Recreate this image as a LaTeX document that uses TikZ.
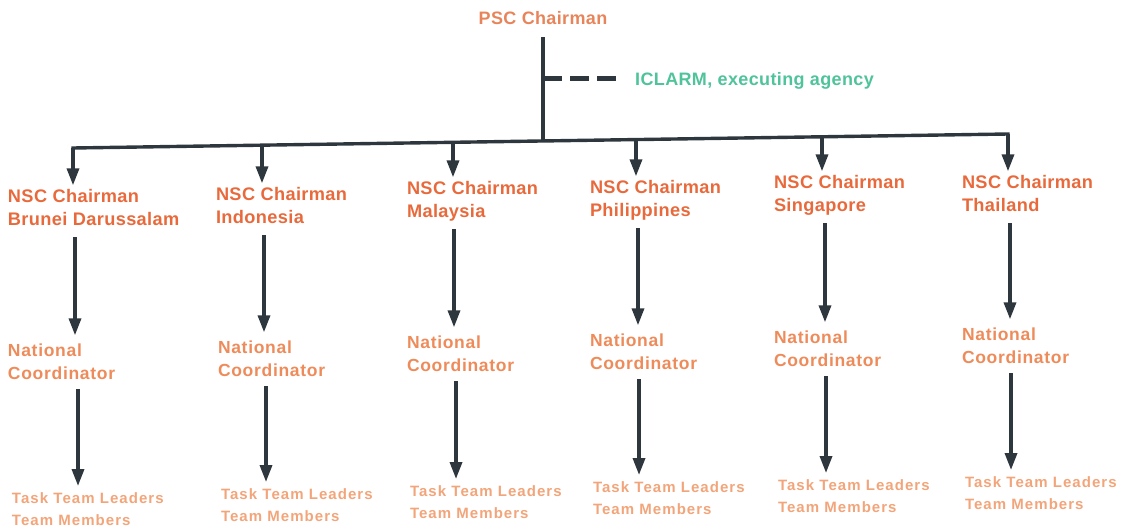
\documentclass[tikz,border=0pt]{standalone}
\usepackage{fontspec}
\setmainfont{Liberation Sans}
\newfontfamily\trackA[LetterSpace=2]{Liberation Sans}
\newfontfamily\trackB[LetterSpace=4]{Liberation Sans}
\newfontfamily\trackC[LetterSpace=7]{Liberation Sans}
\usetikzlibrary{arrows.meta,calc}

\definecolor{nscorange}{HTML}{E86A3C}
\definecolor{ncorange}{HTML}{EE8B5A}
\definecolor{ttorange}{HTML}{F2A57A}
\definecolor{pscorange}{HTML}{E8845A}
\definecolor{agencygreen}{HTML}{4FC39A}
\definecolor{linegray}{HTML}{2E373D}

\tikzset{
  lbl/.style={inner sep=0pt, outer sep=0pt, align=left, anchor=north west},
  nsc/.style={lbl, text=nscorange, font=\trackA\bfseries\fontsize{18.2}{23}\selectfont},
  coord/.style={lbl, text=ncorange, font=\trackB\bfseries\fontsize{17.5}{23}\selectfont},
  team/.style={lbl, text=ttorange, font=\trackC\bfseries\fontsize{15}{22}\selectfont},
  conn/.style={draw=linegray, line width=3.4pt},
  arr/.style={conn, -{Triangle[width=12pt,length=17pt]}},
}
\newcommand{\tline}[1]{#1\strut}

\begin{document}
\begin{tikzpicture}[x=1pt,y=-1pt]
\useasboundingbox (0,0) rectangle (1127,530);

% top of the hierarchy
\node[inner sep=0pt, anchor=base, text=pscorange,
      font=\trackA\bfseries\fontsize{18}{23}\selectfont] (psc) at (543,24.4) {\tline{PSC Chairman}};
\node[inner sep=0pt, anchor=base west, text=agencygreen,
      font=\trackA\bfseries\fontsize{18}{23}\selectfont] (iclarm) at (635,85.4) {\tline{ICLARM, executing agency}};

% distribution bar and its tap points
\coordinate (h1) at (73,148);
\coordinate (h2) at (262,145.2);
\coordinate (h3) at (453,142.3);
\coordinate (h4) at (636,139.6);
\coordinate (h5) at (822,136.8);
\coordinate (h6) at (1008,134);
\coordinate (hub) at (543,141);
\coordinate (dashjoin) at (543,78);

% columns: x positions of the lower arrows
\coordinate (k1) at (75,0);  \coordinate (m1) at (78,0);
\coordinate (k2) at (264,0); \coordinate (m2) at (266,0);
\coordinate (k3) at (454,0); \coordinate (m3) at (456,0);
\coordinate (k4) at (638,0); \coordinate (m4) at (639,0);
\coordinate (k5) at (825,0); \coordinate (m5) at (826,0);
\coordinate (k6) at (1010,0);\coordinate (m6) at (1011,0);

% NSC chairmen
\node[nsc] (nsc1) at (8,186.3)   {\tline{NSC Chairman}\\\tline{Brunei Darussalam}};
\node[nsc] (nsc2) at (216,184.3) {\tline{NSC Chairman}\\\tline{Indonesia}};
\node[nsc] (nsc3) at (407,178.3) {\tline{NSC Chairman}\\\tline{Malaysia}};
\node[nsc] (nsc4) at (590,177.3) {\tline{NSC Chairman}\\\tline{Philippines}};
\node[nsc] (nsc5) at (774,172.3) {\tline{NSC Chairman}\\\tline{Singapore}};
\node[nsc] (nsc6) at (962,172.3) {\tline{NSC Chairman}\\\tline{Thailand}};

% national coordinators
\node[coord] (nc1) at (8,340.3)   {\tline{National}\\\tline{Coordinator}};
\node[coord] (nc2) at (218,337.3) {\tline{National}\\\tline{Coordinator}};
\node[coord] (nc3) at (407,332.3) {\tline{National}\\\tline{Coordinator}};
\node[coord] (nc4) at (590,330.3) {\tline{National}\\\tline{Coordinator}};
\node[coord] (nc5) at (774,327.3) {\tline{National}\\\tline{Coordinator}};
\node[coord] (nc6) at (962,324.3) {\tline{National}\\\tline{Coordinator}};

% task teams
\node[team] (tt1) at (12,488)  {\tline{Task Team Leaders}\\\tline{Team Members}};
\node[team] (tt2) at (221,484) {\tline{Task Team Leaders}\\\tline{Team Members}};
\node[team] (tt3) at (410,481) {\tline{Task Team Leaders}\\\tline{Team Members}};
\node[team] (tt4) at (593,477) {\tline{Task Team Leaders}\\\tline{Team Members}};
\node[team] (tt5) at (778,475) {\tline{Task Team Leaders}\\\tline{Team Members}};
\node[team] (tt6) at (965,472) {\tline{Task Team Leaders}\\\tline{Team Members}};

% connectors
\draw[conn, shorten <=5.7pt] (psc.south) -- (hub);
\draw[draw=linegray, line width=5pt, dash pattern=on 19pt off 8pt]
  (dashjoin) -- ($(iclarm.west |- dashjoin)+(-18,0)$);
\draw[conn, line cap=rect] (h1) -- (h6);

\foreach \i in {1,...,6}{
  \draw[arr, shorten >=1pt] (h\i) -- (h\i |- nsc\i.north);
  \draw[arr, shorten <=5pt, shorten >=5pt] (nsc\i.south -| k\i) -- (nc\i.north -| k\i);
  \draw[arr, shorten <=3pt, shorten >=2pt] (nc\i.south -| m\i) -- (tt\i.north -| m\i);
}
\end{tikzpicture}
\end{document}
